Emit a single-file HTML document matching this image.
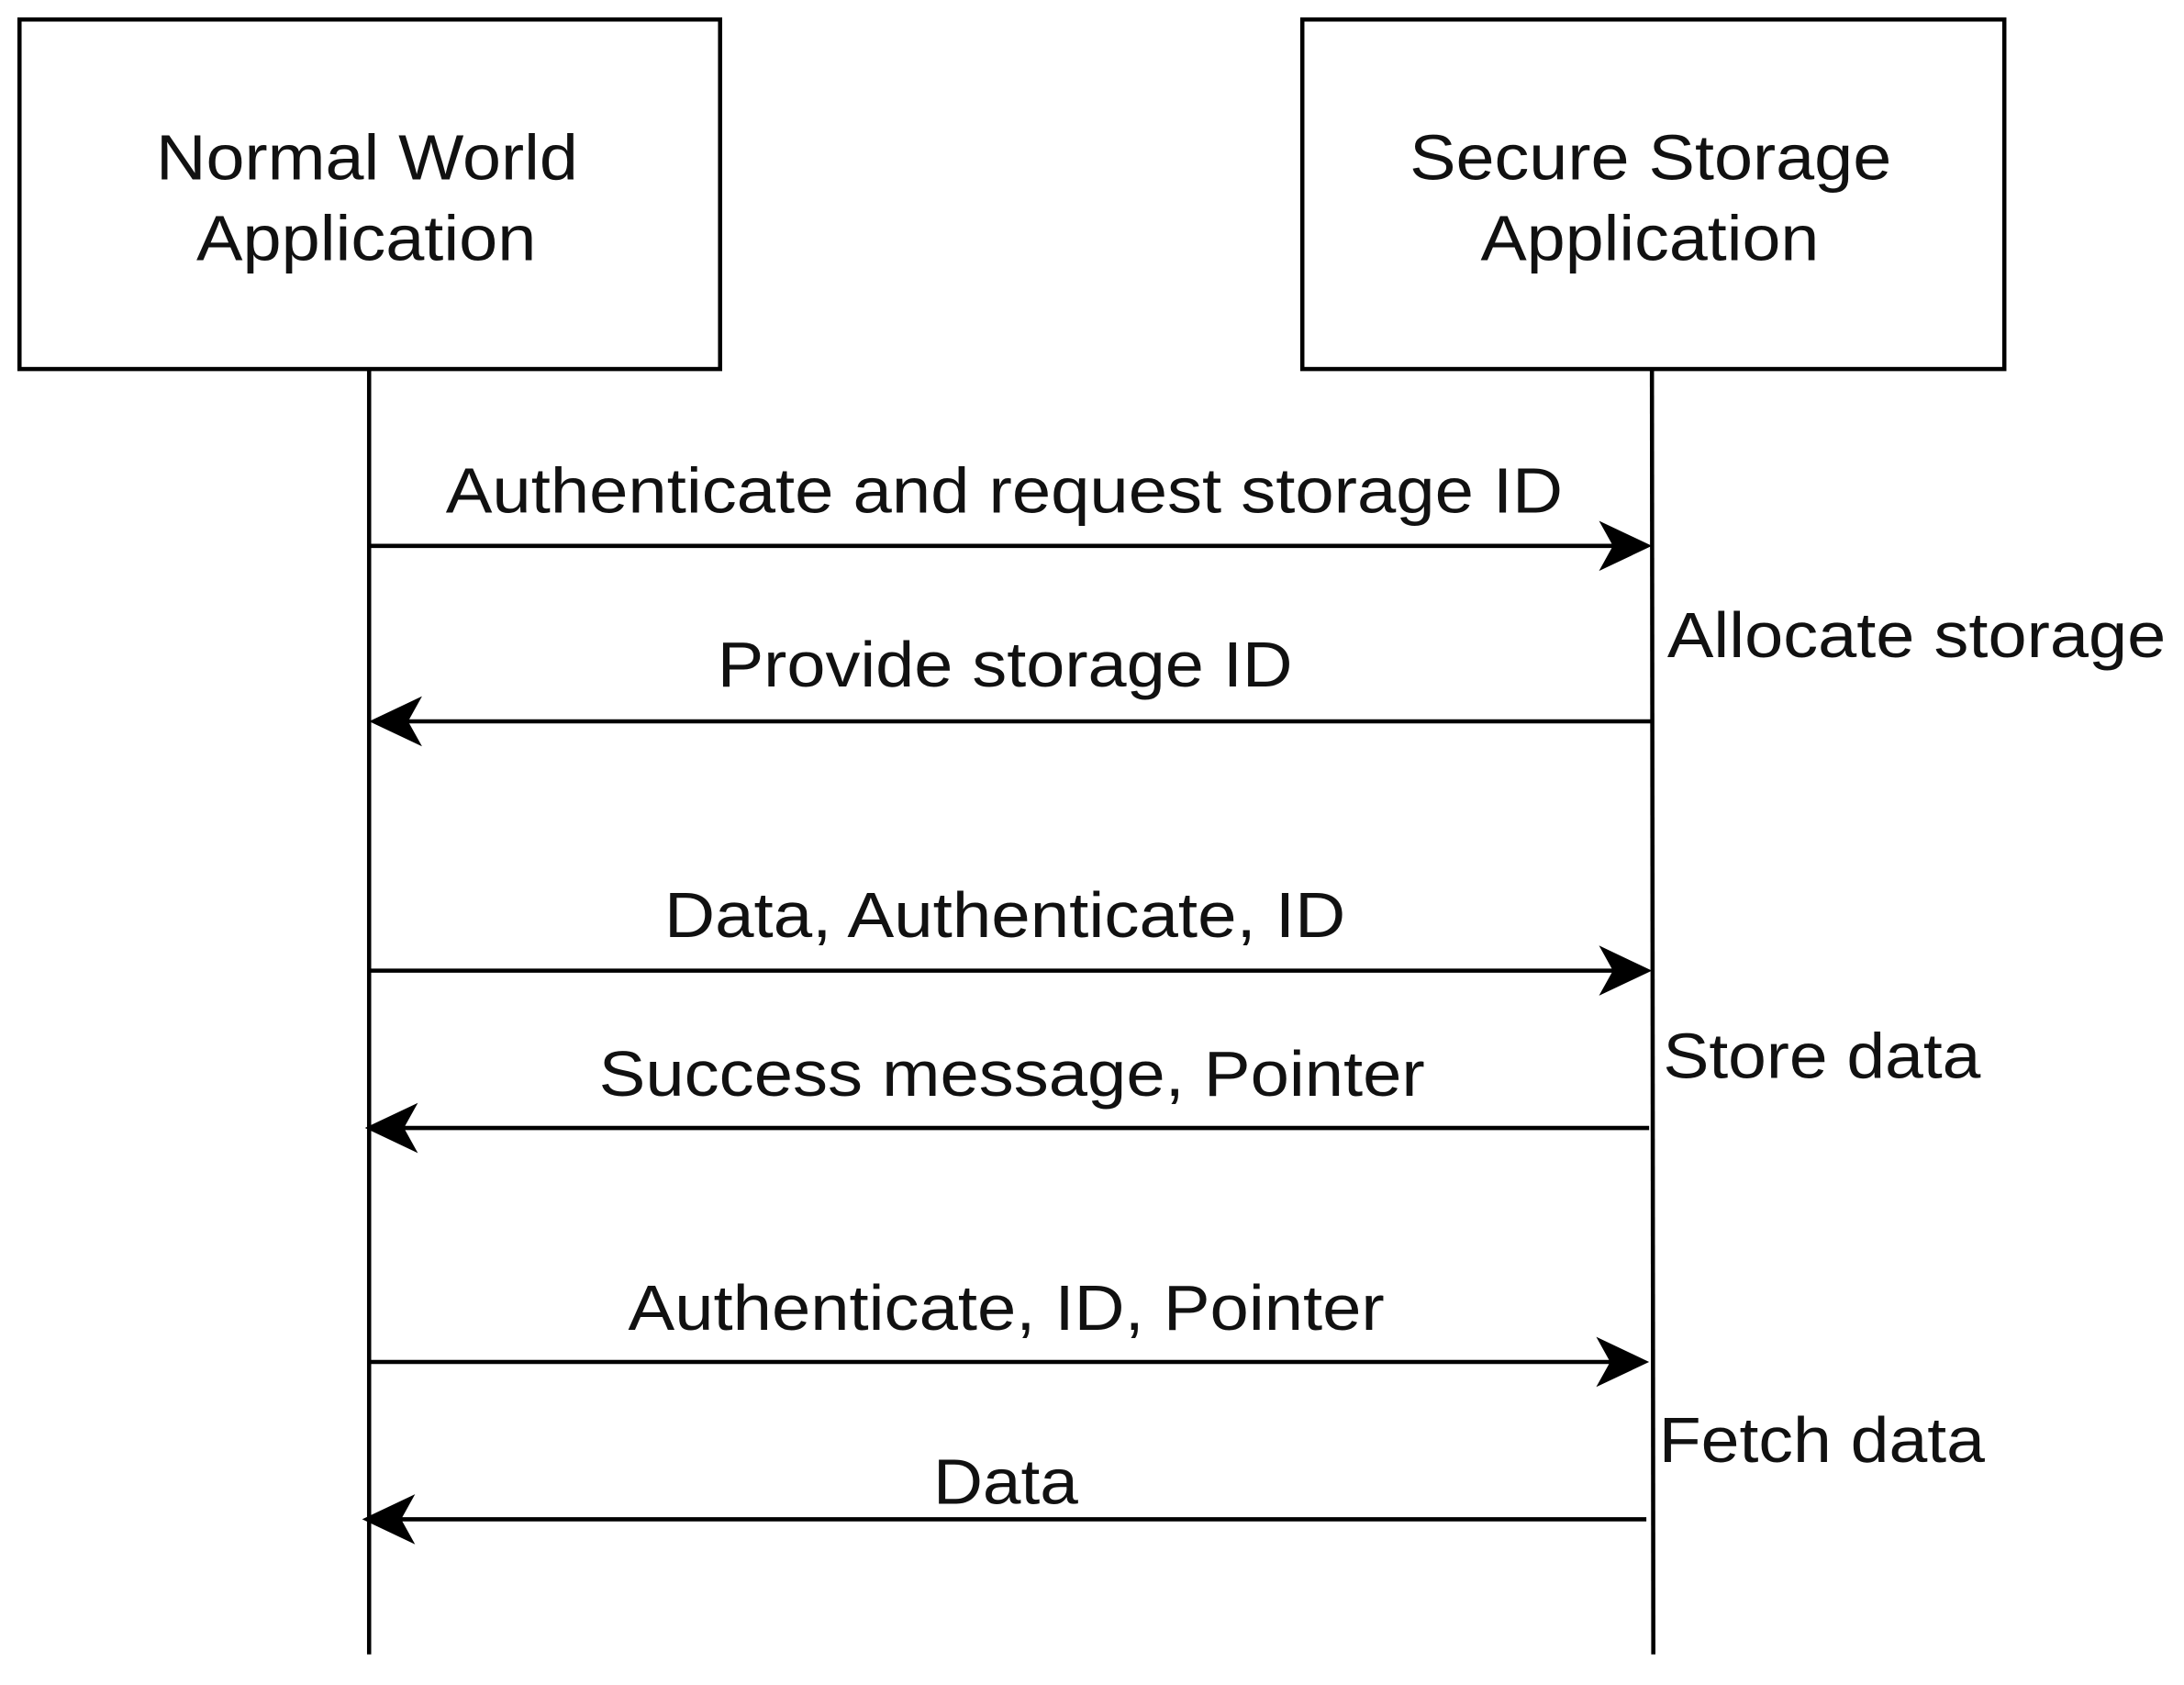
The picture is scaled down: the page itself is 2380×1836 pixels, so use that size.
<!DOCTYPE html>
<html><head><meta charset="utf-8"><style>html,body{margin:0;padding:0;background:#fff;}svg{display:block;}</style></head>
<body>
<svg width="2380" height="1836" viewBox="0 0 1568 1210" preserveAspectRatio="none" xmlns="http://www.w3.org/2000/svg">
<g fill="none" stroke="#000" stroke-width="3">
<rect x="14" y="14" width="503" height="251"/>
<rect x="935" y="14" width="504" height="251"/>
<line x1="265" y1="265" x2="265" y2="1188"/>
<line x1="1186" y1="265" x2="1187" y2="1188"/>
<line x1="265" y1="392" x2="1160" y2="392"/>
<line x1="290" y1="518" x2="1186" y2="518"/>
<line x1="265" y1="697" x2="1160" y2="697"/>
<line x1="288" y1="810" x2="1184" y2="810"/>
<line x1="265" y1="978" x2="1158" y2="978"/>
<line x1="286" y1="1091" x2="1182" y2="1091"/>
</g>
<g fill="#000">
<path d="M1186,392 L1148,374 L1158,392 L1148,410 Z"/>
<path d="M265,518 L303,500 L293,518 L303,536 Z"/>
<path d="M1186,697 L1148,679 L1158,697 L1148,715 Z"/>
<path d="M262,810 L300,792 L290,810 L300,828 Z"/>
<path d="M1184,978 L1146,960 L1156,978 L1146,996 Z"/>
<path d="M260,1091 L298,1073 L288,1091 L298,1109 Z"/>
</g>
<g font-family="Liberation Sans, Arial, sans-serif" font-size="46" fill="#111">
<text x="112" y="129" textLength="303" lengthAdjust="spacingAndGlyphs">Normal World</text>
<text x="141" y="187" textLength="244" lengthAdjust="spacingAndGlyphs">Application</text>
<text x="1012" y="129" textLength="346" lengthAdjust="spacingAndGlyphs">Secure Storage</text>
<text x="1063" y="187" textLength="243" lengthAdjust="spacingAndGlyphs">Application</text>
<text x="320" y="368" textLength="802" lengthAdjust="spacingAndGlyphs">Authenticate and request storage ID</text>
<text x="515" y="493" textLength="413" lengthAdjust="spacingAndGlyphs">Provide storage ID</text>
<text x="477" y="673" textLength="489" lengthAdjust="spacingAndGlyphs">Data, Authenticate, ID</text>
<text x="430" y="787" textLength="593" lengthAdjust="spacingAndGlyphs">Success message, Pointer</text>
<text x="451" y="955" textLength="543" lengthAdjust="spacingAndGlyphs">Authenticate, ID, Pointer</text>
<text x="670" y="1080" textLength="104" lengthAdjust="spacingAndGlyphs">Data</text>
<text x="1197" y="472" textLength="358" lengthAdjust="spacingAndGlyphs">Allocate storage</text>
<text x="1194" y="774" textLength="228" lengthAdjust="spacingAndGlyphs">Store data</text>
<text x="1191" y="1050" textLength="234" lengthAdjust="spacingAndGlyphs">Fetch data</text>
</g>
</svg>
</body></html>
